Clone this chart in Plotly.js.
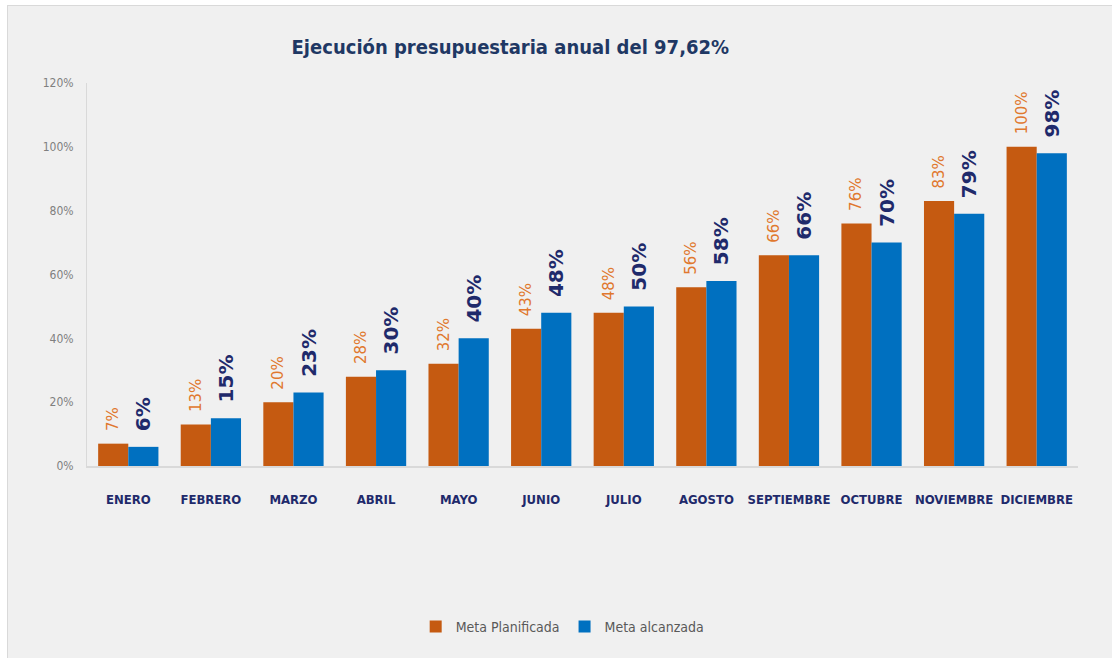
<!DOCTYPE html>
<html><head><meta charset="utf-8">
<script src="https://cdn.plot.ly/plotly-3.0.1.min.js"></script>
<style>
html,body{margin:0;padding:0;background:#ffffff;}
#wrap{position:absolute;left:7px;top:5px;width:1104px;height:653px;border:1px solid #d9d9d9;border-bottom:none;background:#f0f0f0;}
#chart{width:1104px;height:652px;}
</style></head>
<body><div id="wrap"><div id="chart"></div></div>
<script>
const months = ["ENERO","FEBRERO","MARZO","ABRIL","MAYO","JUNIO","JULIO","AGOSTO","SEPTIEMBRE","OCTUBRE","NOVIEMBRE","DICIEMBRE"];
const metaPlanificada = [7,13,20,28,32,43,48,56,66,76,83,100];
const metaAlcanzada = [6,15,23,30,40,48,50,58,66,70,79,98];
const yTicks = [0,20,40,60,80,100,120];

const narrow = "'Liberation Sans Narrow','DejaVu Sans Condensed','Roboto Condensed',sans-serif";
const pad = '\u00a0\u00a0';
const traces = [
  {type:'bar', name:'Meta Planificada', x:months, y:metaPlanificada,
   marker:{color:'#c55a11'},
   text:metaPlanificada.map(v=>pad+v+'%'), textposition:'outside', textangle:-90,
   constraintext:'none', cliponaxis:false,
   textfont:{family:"'DejaVu Sans',sans-serif", size:15, color:'#e0782e'},
   hoverinfo:'skip'},
  {type:'bar', name:'Meta alcanzada', x:months, y:metaAlcanzada,
   marker:{color:'#0070c0'},
   text:metaAlcanzada.map(v=>pad+'<b>'+v+'%</b>'), textposition:'outside', textangle:-90,
   constraintext:'none', cliponaxis:false,
   textfont:{family:"'DejaVu Sans',sans-serif", size:20, color:'#1f2a6b'},
   hoverinfo:'skip'}
];
const layout = {
  width:1104, height:652,
  paper_bgcolor:'#f0f0f0', plot_bgcolor:'#f0f0f0',
  margin:{l:79, r:34, t:77, b:192},
  title:{text:'<b>Ejecución presupuestaria anual del 97,62%</b>', x:0.455, xanchor:'center', y:0.937, yanchor:'middle',
         font:{family:narrow, size:20, color:'#1f3864'}},
  barmode:'group', bargap:0.27, bargroupgap:0,
  xaxis:{showline:true, linecolor:'#d9d9d9', linewidth:2, ticks:'outside', ticklen:20, tickcolor:'rgba(0,0,0,0)',
         tickfont:{family:narrow, size:13, color:'#1f2a6b', weight:'bold'}, tickangle:0, showgrid:false},
  yaxis:{range:[0,120], tickvals:yTicks, ticktext:yTicks.map(v=>v+'%'), showline:true, linecolor:'#d9d9d9', linewidth:1,
         ticks:'outside', ticklen:10, tickcolor:'rgba(0,0,0,0)', showgrid:false, zeroline:false,
         tickfont:{family:narrow, size:12, color:'#7f7f7f'}},
  showlegend:true,
  legend:{orientation:'h', x:0.48, xanchor:'center', y:-0.42, yanchor:'middle',
          font:{family:narrow, size:14, color:'#595959'}, bgcolor:'rgba(0,0,0,0)', itemwidth:30},
  font:{family:narrow}
};
Plotly.newPlot('chart', traces, layout, {displayModeBar:false, staticPlot:true});
</script></body></html>
